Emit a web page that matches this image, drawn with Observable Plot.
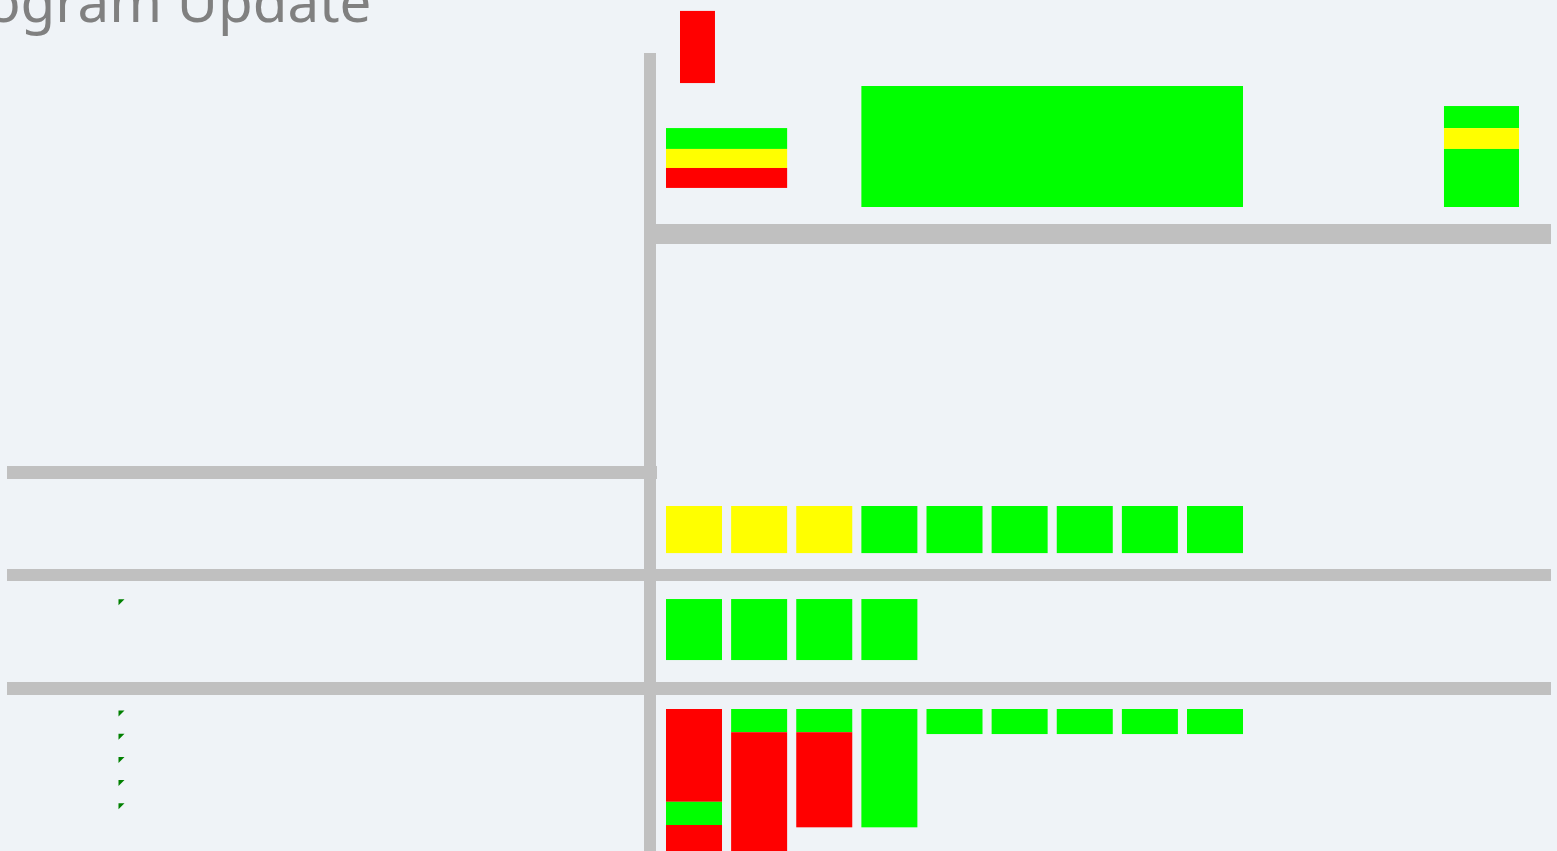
<!DOCTYPE html>
<html><head><meta charset="utf-8">
<script src="https://cdn.jsdelivr.net/npm/d3@7"></script>
<script src="https://cdn.jsdelivr.net/npm/@observablehq/plot@0.6"></script>
<style>
html,body{margin:0;padding:0;background:#eff3f7;overflow:hidden;width:1557px;height:851px;}
#wrap{position:relative;width:1557px;height:851px;}
#title{position:absolute;left:-70px;top:-27px;font-family:"Noto Sans",sans-serif;font-size:56.5px;color:#808080;white-space:nowrap;line-height:1;margin:0;font-weight:normal;z-index:2}
#chart{position:absolute;left:0;top:0}
</style></head><body><div id="wrap"><h1 id="title">Program Update</h1><div id="chart"></div></div>
<script>
// ---- data ----
const statuses = ["done", "risk", "late"];
const statusColors = ["#00ff00", "#ffff00", "#ff0000"];

// summary band (top): each item spans columns [from, to], with stacked status segments [status, startLine, endLine]
const summaryItems = [
  {from: 0.215, to: -0.108, segs: [["late", -0.09, 3.02]]},
  {from: 0, to: 1, segs: [["done", 4.96, 5.86], ["risk", 5.86, 6.68], ["late", 6.68, 7.54]]},
  {from: 3, to: 8, segs: [["done", 3.147, 8.362]]},
  {from: 11.946, to: 12.238, segs: [["done", 4.01, 4.96], ["risk", 4.96, 5.86], ["done", 5.86, 8.362]]}
];

// row B: one cell per column
const rowBStatus = ["risk", "risk", "risk", "done", "done", "done", "done", "done", "done"];
const rowBLines = [21.25, 23.28];

// row C
const rowCStatus = ["done", "done", "done", "done"];
const rowCLines = [25.26, 27.89];

// row D: stacked segments per column [status, length in lines], starting at line 30
const rowDStart = 30;
const rowDStacks = [
  [["late", 4], ["done", 1], ["late", 1.5]],
  [["done", 1], ["late", 5.5]],
  [["done", 1], ["late", 4.1]],
  [["done", 5.1]],
  [["done", 1.08]],
  [["done", 1.08]],
  [["done", 1.08]],
  [["done", 1.08]],
  [["done", 1.08]]
];

// task flags in the label area (line numbers)
const flagColumn = -8.369;
const flagLines = [25.2, 30, 31, 32, 33, 34];

// grid dividers
const dividers = [
  {x1: -0.3378, x2: -0.1536, y1: 1.724, y2: 36.5},
  {x1: -0.1536, x2: 13.589, y1: 9.095, y2: 9.957},
  {x1: -10.119, x2: -0.1382, y1: 19.526, y2: 20.086},
  {x1: -10.119, x2: 13.589, y1: 23.966, y2: 24.483},
  {x1: -10.119, x2: 13.589, y1: 28.836, y2: 29.397}
];

// ---- build ----
const cellW = 0.86;
const cells = [];
for (const it of summaryItems) {
  for (const [s, a, b] of it.segs) cells.push({status: s, x1: it.from, x2: it.to + cellW, y1: a, y2: b});
}
rowBStatus.forEach((s, i) => cells.push({status: s, x1: i, x2: i + cellW, y1: rowBLines[0], y2: rowBLines[1]}));
rowCStatus.forEach((s, i) => cells.push({status: s, x1: i, x2: i + cellW, y1: rowCLines[0], y2: rowCLines[1]}));
rowDStacks.forEach((stack, i) => {
  let y = rowDStart;
  for (const [s, len] of stack) { cells.push({status: s, x1: i, x2: i + cellW, y1: y, y2: y + len}); y += len; }
});

const flag = {
  draw(ctx, size) {
    ctx.moveTo(-3, -3); ctx.lineTo(3, -3); ctx.lineTo(-3, 3); ctx.closePath();
  }
};

const chart = Plot.plot({
  width: 1557, height: 851, margin: 0,
  x: {domain: [-10.2265, 13.6814], axis: null},
  y: {domain: [-0.5603, 36.1207], reverse: true, axis: null},
  color: {domain: statuses, range: statusColors},
  style: {background: "transparent", overflow: "hidden"},
  marks: [
    Plot.rect(dividers, {x1: "x1", x2: "x2", y1: "y1", y2: "y2", fill: "#c0c0c0"}),
    Plot.rect(cells, {x1: "x1", x2: "x2", y1: "y1", y2: "y2", fill: "status"}),
    Plot.dot(flagLines, {x: () => flagColumn, y: d => d, dy: 4, r: 3, symbol: flag, fill: "#008000"})
  ]
});
document.getElementById("chart").appendChild(chart);
</script>
</body></html>
